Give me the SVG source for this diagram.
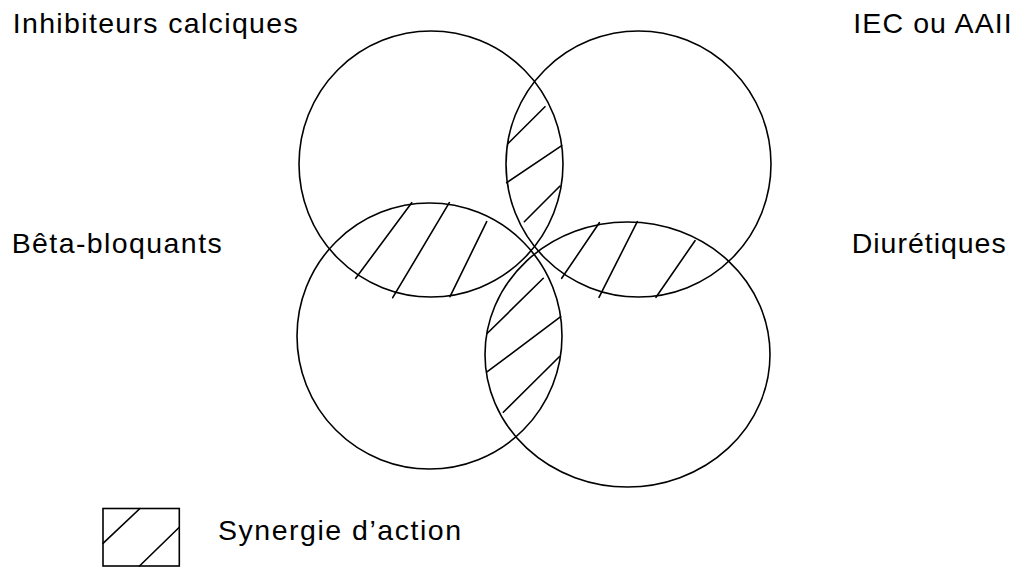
<svg xmlns="http://www.w3.org/2000/svg" width="1018" height="569" viewBox="0 0 1018 569">
<style>
.c{fill:none;stroke:#000;stroke-width:1.6}
.h{stroke:#000;stroke-width:1.6;stroke-linecap:round}
.t{font-family:"Liberation Sans",Arial,sans-serif;font-size:28.5px;fill:#000}
</style>
<rect width="1018" height="569" fill="#fff"/>
<g id="circle-ic"><ellipse class="c" cx="431" cy="164" rx="132" ry="133"/></g>
<g id="circle-iec"><ellipse class="c" cx="638.5" cy="164" rx="132.5" ry="133"/></g>
<g id="circle-bb"><ellipse class="c" cx="429.5" cy="336" rx="132.5" ry="133"/></g>
<g id="circle-diu"><ellipse class="c" cx="627.5" cy="354.5" rx="142.5" ry="132.5"/></g>
<g id="hatching">
<line class="h" x1="508.3" y1="143.3" x2="545" y2="106.7"/>
<line class="h" x1="506.7" y1="182.7" x2="561.7" y2="145.7"/>
<line class="h" x1="524.3" y1="221.7" x2="560" y2="186"/>
<line class="h" x1="355.7" y1="278.3" x2="411.7" y2="202.7"/>
<line class="h" x1="392.7" y1="297.7" x2="449.3" y2="202.7"/>
<line class="h" x1="450" y1="296.7" x2="486.7" y2="221.7"/>
<line class="h" x1="561.7" y1="278.3" x2="599.3" y2="222.7"/>
<line class="h" x1="599" y1="297.3" x2="637.3" y2="221.7"/>
<line class="h" x1="656" y1="297.3" x2="695" y2="240.7"/>
<line class="h" x1="487.3" y1="333.3" x2="543.3" y2="278.3"/>
<line class="h" x1="487.3" y1="371.7" x2="560.7" y2="316.7"/>
<line class="h" x1="503.3" y1="412.3" x2="559.3" y2="356.7"/>
</g>
<g id="labels">
<text class="t" x="12.7" y="33" textLength="285" lengthAdjust="spacing">Inhibiteurs calciques</text>
<text class="t" x="853.3" y="33" textLength="158.4" lengthAdjust="spacing">IEC ou AAII</text>
<text class="t" x="11.7" y="253" textLength="210" lengthAdjust="spacing">Bêta-bloquants</text>
<text class="t" x="851.7" y="253" textLength="154" lengthAdjust="spacing">Diurétiques</text>
</g>
<g id="legend">
<rect class="c" x="103" y="508.5" width="76.3" height="57.5"/>
<line class="h" x1="103" y1="543.3" x2="140" y2="508.5"/>
<line class="h" x1="139.5" y1="566" x2="179.3" y2="527.3"/>
<text class="t" x="218" y="540" textLength="243" lengthAdjust="spacing">Synergie d’action</text>
</g>
</svg>
